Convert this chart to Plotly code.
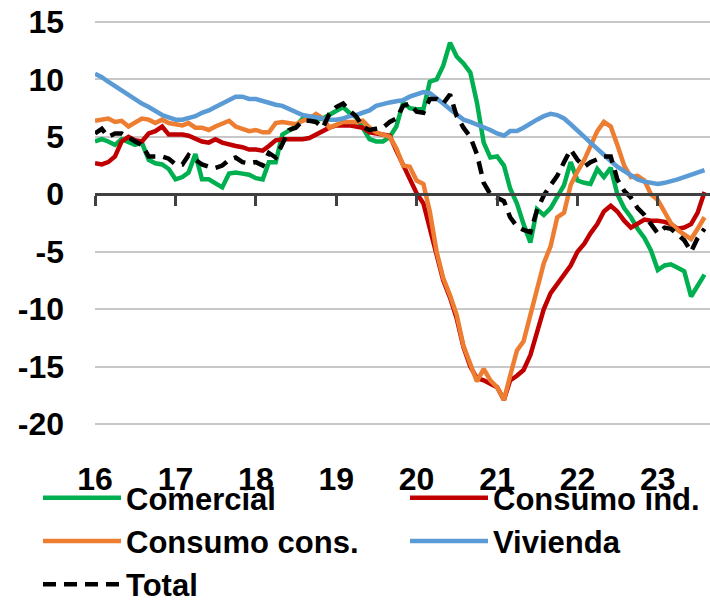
import pandas as pd
import plotly.graph_objects as go

months = pd.date_range("2016-01-01", periods=92, freq="MS")

comercial = [
    4.6, 4.8, 4.6, 4.3, 4.8, 4.5, 4.3, 4.5, 3.0, 2.7, 2.6, 2.2,
    1.3, 1.5, 1.9, 3.5, 1.3, 1.3, 0.9, 0.6, 1.8, 1.9, 1.8, 1.7,
    1.4, 1.3, 2.8, 2.8, 5.2, 5.6, 5.9, 6.6, 6.5, 6.5, 6.6, 6.9,
    7.3, 7.6, 7.1, 6.7, 5.8, 4.8, 4.6, 4.6, 5.0, 5.9, 8.0, 7.5,
    7.4, 7.4, 9.8, 10.0, 11.2, 13.2, 12.0, 11.4, 10.6, 8.0, 4.5, 3.2,
    3.3, 2.5, 0.5, -0.8, -2.6, -4.2, -1.3, -1.8, -1.2, -0.3, 0.8, 2.8,
    1.2, 1.0, 0.9, 2.2, 1.5, 2.3, 0.0, -1.2, -2.0, -3.0, -3.8, -4.9,
    -6.6, -6.2, -6.1, -6.4, -6.7, -8.9, -7.9, -7.0,
]

consumo_ind = [
    2.7, 2.6, 2.8, 3.3, 4.6, 5.0, 4.7, 4.6, 5.3, 5.5, 5.9, 5.2,
    5.2, 5.2, 5.1, 4.8, 4.6, 4.5, 4.8, 4.5, 4.3, 4.2, 4.1, 3.9,
    3.9, 3.8, 4.2, 4.7, 4.8, 4.8, 4.8, 4.8, 4.9, 5.2, 5.5, 5.8,
    6.0, 6.0, 6.0, 5.9, 5.8, 5.4, 5.3, 5.2, 5.1, 3.8, 2.5, 1.3,
    0.1, -0.8, -3.0, -5.2, -7.5, -9.0, -10.8, -13.3, -15.0, -16.0, -16.2, -16.5,
    -16.8, -17.9, -16.2, -15.8, -15.3, -14.0, -12.0, -10.0, -8.6, -7.8, -7.0, -6.2,
    -5.0, -4.3, -3.4, -2.6, -1.5, -1.0, -1.5, -2.3, -2.9, -2.5, -2.2, -2.3,
    -2.3, -2.4, -2.6, -3.0, -2.9, -2.6, -1.6, 0.2,
]

consumo_cons = [
    6.4, 6.5, 6.6, 6.3, 6.4, 5.9, 6.2, 6.6, 6.5, 6.2, 6.5, 6.2,
    6.1, 6.0, 6.2, 5.8, 5.8, 5.6, 5.9, 6.1, 6.4, 5.9, 5.7, 5.5,
    5.6, 5.4, 5.4, 6.2, 6.3, 6.2, 6.1, 6.4, 6.6, 7.0, 6.6, 5.8,
    6.0, 6.3, 6.3, 6.3, 6.4, 5.8, 5.4, 5.2, 5.0, 4.0, 2.5, 2.4,
    1.2, 0.9, -1.5, -5.0, -7.3, -8.8, -10.5, -13.2, -14.8, -16.3, -15.2, -16.2,
    -16.8, -17.9, -15.8, -13.6, -12.8, -10.5, -8.0, -6.0, -4.5, -2.0, -1.6, 0.8,
    2.0, 3.0, 4.2, 5.5, 6.3, 5.9, 4.3, 2.5, 1.5, 1.6, 1.2, 0.0,
    -0.5, -1.5, -2.5, -3.1, -3.5, -3.9, -3.0, -2.0,
]

vivienda = [
    10.5, 10.2, 9.8, 9.4, 9.0, 8.6, 8.2, 7.9, 7.6, 7.2, 6.9, 6.7,
    6.5, 6.5, 6.6, 6.8, 7.1, 7.3, 7.6, 7.9, 8.2, 8.5, 8.5, 8.3,
    8.3, 8.1, 8.0, 7.8, 7.7, 7.4, 7.1, 6.9, 6.8, 6.7, 6.6, 6.5,
    6.5, 6.6, 6.8, 6.9, 7.1, 7.3, 7.7, 7.9, 8.0, 8.1, 8.2, 8.5,
    8.7, 8.9, 8.8, 8.4, 7.9, 7.4, 6.9, 6.5, 6.3, 6.1, 5.9, 5.6,
    5.3, 5.1, 5.5, 5.5, 5.8, 6.1, 6.5, 6.8, 7.0, 6.9, 6.6, 6.1,
    5.5, 5.0, 4.5, 4.0, 3.4, 2.9, 2.4, 2.0, 1.6, 1.3, 1.1, 1.0,
    0.9, 1.0, 1.1, 1.3, 1.5, 1.7, 1.9, 2.1,
]

total = [
    5.3, 5.7, 5.0, 5.3, 5.3, 4.9, 4.6, 4.3, 3.3, 3.3, 3.3, 3.1,
    2.6, 2.6, 3.4, 3.0, 2.6, 2.4, 2.3, 2.5, 3.0, 3.2, 2.8, 2.7,
    2.8, 2.5, 3.6, 3.2, 4.5, 5.6, 5.8, 6.4, 6.4, 6.3, 5.8, 7.0,
    7.6, 7.9, 7.3, 6.8, 5.9, 5.6, 5.7, 5.8, 6.3, 6.6, 7.7, 7.9,
    7.2, 7.1, 8.3, 8.3, 7.9, 8.7, 6.8, 5.8, 5.0, 3.5, 1.0, 0.0,
    -0.3, -0.6, -2.0, -2.8, -3.1, -3.3, -1.4, -0.1, 0.8, 1.6, 2.8, 3.9,
    3.0, 2.4, 2.8, 3.1, 3.3, 3.3, 1.3, 0.3, -0.3, -1.2, -1.8, -2.6,
    -3.4, -2.9, -3.0, -3.5, -4.0, -5.0, -3.8, -3.0,
]

year_ticks = pd.date_range("2016-01-01", periods=8, freq="YS")
year_labels = ["16", "17", "18", "19", "20", "21", "22", "23"]
y_ticks = [15, 10, 5, 0, -5, -10, -15, -20]
y_labels = ["15", "10", "5", "0", "-5", "-10", "-15", "-20"]

FONT = "Liberation Sans, Arial, sans-serif"

series = [
    ("Comercial", comercial, "#00B050", "solid", "legend"),
    ("Consumo ind.", consumo_ind, "#C00000", "solid", "legend2"),
    ("Consumo cons.", consumo_cons, "#ED7D31", "solid", "legend"),
    ("Vivienda", vivienda, "#5B9BD5", "solid", "legend2"),
    ("Total", total, "#000000", "13px,8px", "legend"),
]

fig = go.Figure()
for name, vals, color, dash, leg in series:
    fig.add_trace(go.Scatter(
        x=months, y=vals, name=name, mode="lines", legend=leg,
        line=dict(color=color, width=4.5, dash=dash),
    ))

# invisible trace on secondary x axis so the zero-line axis is drawn
fig.add_trace(go.Scatter(x=[months[0]], y=[0], xaxis="x2", mode="markers",
                         marker=dict(opacity=0), showlegend=False, hoverinfo="skip"))

x_range = [pd.Timestamp("2016-01-01"), pd.Timestamp("2023-08-26")]
Y_MIN, Y_MAX = -20.35, 15.35

M_TOP, M_BOT = 18, 172
PLOT_BOTTOM = 600 - M_BOT
PLOT_H = 600 - M_TOP - M_BOT
LEG_TOP = 471

legend_font = dict(family=FONT, size=31, color="black", weight="bold")
legend_common = dict(
    orientation="v", xref="paper", yref="paper",
    xanchor="left", yanchor="top", font=legend_font,
    itemwidth=78, bgcolor="rgba(0,0,0,0)", borderwidth=0,
    traceorder="normal",
)

fig.update_layout(
    width=710, height=600,
    margin=dict(l=95, r=0, t=M_TOP, b=M_BOT, autoexpand=False),
    paper_bgcolor="white", plot_bgcolor="white",
    font=dict(family=FONT, size=32, color="black", weight="bold"),
    xaxis=dict(
        range=x_range, tickvals=year_ticks, ticktext=year_labels,
        showgrid=False, zeroline=False, showline=False, ticks="",
        ticklabelstandoff=29,
        tickfont=dict(family=FONT, size=32, color="black", weight="bold"),
    ),
    xaxis2=dict(
        range=x_range, overlaying="x", anchor="free",
        position=(0 - Y_MIN) / (Y_MAX - Y_MIN),
        side="bottom", tickvals=year_ticks, showticklabels=False,
        showgrid=False, zeroline=False, showline=True, linecolor="#404040",
        linewidth=3, ticks="outside", ticklen=10, tickwidth=3, tickcolor="#404040",
    ),
    yaxis=dict(
        range=[Y_MIN, Y_MAX], tickvals=y_ticks, ticktext=y_labels,
        showgrid=True, gridcolor="#C8C8C8",
        gridwidth=2, zeroline=False, showline=False, ticks="",
        ticklabelstandoff=30, ticklabeloverflow="allow",
        tickfont=dict(family=FONT, size=32, color="black", weight="bold"),
    ),
    legend=dict(x=(38 - 95) / 615, y=(PLOT_BOTTOM - LEG_TOP) / PLOT_H, **legend_common),
    legend2=dict(x=(405 - 95) / 615, y=(PLOT_BOTTOM - LEG_TOP) / PLOT_H, **legend_common),
    showlegend=True,
)

fig.write_html(
    "out.html",
    config={"displayModeBar": False},
    post_script="document.body.style.margin='0';",
)
